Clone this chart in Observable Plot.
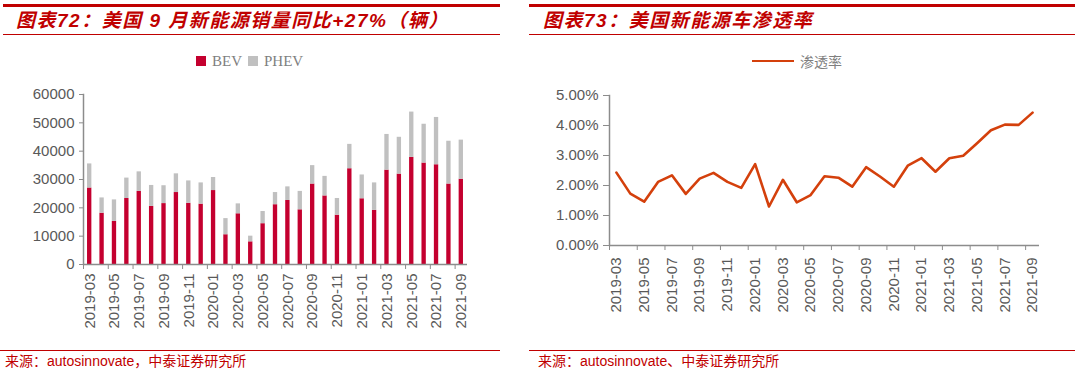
<!DOCTYPE html>
<html><head><meta charset="utf-8">
<script src="https://cdn.jsdelivr.net/npm/d3@7"></script>
<script src="https://cdn.jsdelivr.net/npm/@observablehq/plot@0.6"></script>
<style>
body{margin:0;background:#fff;}
#root{position:relative;width:1075px;height:375px;overflow:hidden;background:#fff;}
.abs{position:absolute;}
.title{font-family:"Liberation Sans","Noto Sans CJK SC",sans-serif;font-weight:bold;font-style:italic;font-size:19px;color:#c00000;letter-spacing:1.5px;white-space:nowrap;line-height:22px;}
.thick{height:2.5px;background:#c00000;}
.thin{height:1.3px;background:#c00000;}
.src{font-family:"Liberation Sans","Noto Sans CJK SC",sans-serif;font-size:14px;color:#c00000;white-space:nowrap;line-height:18px;}
.srcline{height:1px;background:#c00000;}
.leg{font-family:"Liberation Serif","Noto Sans CJK SC",serif;font-size:15px;color:#7f7f7f;white-space:nowrap;line-height:18px;}
.legcjk{font-family:"Noto Sans CJK SC",sans-serif;font-size:14px;color:#7f7f7f;white-space:nowrap;line-height:18px;}
</style></head>
<body>
<div id="root">
  <div class="abs thick" style="left:3px;top:4px;width:497px;"></div>
  <div class="abs title" style="left:16px;top:10px;">图表72：美国 9 月新能源销量同比+27%（辆）</div>
  <div class="abs thin" style="left:3px;top:33.5px;width:497px;"></div>

  <div class="abs thick" style="left:529px;top:4px;width:546px;"></div>
  <div class="abs title" style="left:543px;top:10px;">图表73：美国新能源车渗透率</div>
  <div class="abs thin" style="left:529px;top:33.5px;width:546px;"></div>

  <div class="abs" style="left:196px;top:56px;width:10px;height:10px;background:#c4002f;"></div>
  <div class="abs leg" style="left:212px;top:52px;">BEV</div>
  <div class="abs" style="left:248px;top:56px;width:10px;height:10px;background:#c0c0c0;"></div>
  <div class="abs leg" style="left:264px;top:52px;">PHEV</div>

  <div class="abs" style="left:752px;top:59.5px;width:42px;height:2.7px;background:#d4400c;"></div>
  <div class="abs legcjk" style="left:800px;top:52px;">渗透率</div>

  <div id="left" class="abs" style="left:0px;top:85px;"></div>
  <div id="right" class="abs" style="left:540px;top:85px;"></div>

  <div class="abs srcline" style="left:0px;top:349.5px;width:500px;"></div>
  <div class="abs src" style="left:5px;top:352px;">来源：autosinnovate，中泰证券研究所</div>
  <div class="abs srcline" style="left:529px;top:349.5px;width:546px;"></div>
  <div class="abs src" style="left:538px;top:352px;">来源：autosinnovate、中泰证券研究所</div>
</div>
<script>
const months = ["2019-03","2019-04","2019-05","2019-06","2019-07","2019-08","2019-09","2019-10","2019-11","2019-12",
  "2020-01","2020-02","2020-03","2020-04","2020-05","2020-06","2020-07","2020-08","2020-09","2020-10","2020-11","2020-12",
  "2021-01","2021-02","2021-03","2021-04","2021-05","2021-06","2021-07","2021-08","2021-09"];
const tickMonths = ["2019-03","2019-05","2019-07","2019-09","2019-11","2020-01","2020-03","2020-05","2020-07","2020-09",
  "2020-11","2021-01","2021-03","2021-05","2021-07","2021-09"];
const bev = [27000,18100,15200,23300,25800,20500,21500,25400,21600,21300,26100,10500,17900,8000,14400,21100,22600,19300,
  28400,24200,17400,33800,23200,19100,33300,31900,37800,35800,35200,28400,30100];
const phev = [8500,5400,7600,7200,6900,7400,6300,6600,7900,7500,4600,5700,3500,2000,4300,4300,4800,6500,
  6500,6900,5900,8600,8400,9700,12600,13000,16000,13700,16700,15100,13800];
const ratePct = [2.43,1.73,1.46,2.12,2.34,1.72,2.23,2.42,2.12,1.92,2.71,1.30,2.19,1.44,1.68,2.31,2.26,1.96,
  2.61,2.30,1.96,2.66,2.91,2.46,2.91,2.99,3.41,3.84,4.03,4.02,4.43];
const seriesNames = ["BEV","PHEV"];
const yTicksL = [0,10000,20000,30000,40000,50000,60000];
const yTicksR = [0,0.01,0.02,0.03,0.04,0.05];

const red = "#c4002f", gray = "#c0c0c0", lineColor = "#d4400c";
const axisGray = "#8c8c8c", labelGray = "#595959";
const font = "Liberation Sans, Arial, sans-serif";

const rows = months.flatMap((m, i) => [
  {month: m, type: seriesNames[0], value: bev[i]},
  {month: m, type: seriesNames[1], value: phev[i]}
]);
const rateRows = months.map((m, i) => ({month: m, rate: ratePct[i] / 100}));

// Left chart
{
  const W = 490, H = 265, ml = 83, mr = 23;
  const step = (W - ml - mr) / months.length;
  const chart = Plot.plot({
    width: W, height: H, marginLeft: ml, marginRight: mr, marginTop: 9, marginBottom: 86,
    style: {fontFamily: font, fontSize: "15px", color: labelGray, background: "transparent"},
    x: {type: "band", domain: months, paddingInner: 0.65, paddingOuter: 0.325, round: false},
    y: {domain: [0, 60000]},
    color: {domain: seriesNames, range: [red, gray]},
    marks: [
      Plot.barY(rows, {x: "month", y: "value", fill: "type"}),
      Plot.axisY({ticks: yTicksL, tickSize: 4, tickPadding: 5, tickFormat: d3.format("d"), stroke: axisGray, fill: labelGray, label: null}),
      Plot.axisX({ticks: tickMonths, tickSize: 5, tickFormat: () => "", dx: -step / 2, stroke: axisGray, label: null}),
      Plot.axisX({ticks: tickMonths, tickSize: 0, tickPadding: 9, tickRotate: -90, fill: labelGray, label: null}),
      Plot.ruleY([0], {stroke: axisGray, strokeWidth: 1.5}),
      Plot.frame({anchor: "left", stroke: axisGray, strokeWidth: 1.5})
    ]
  });
  document.getElementById("left").appendChild(chart);
}

// Right chart
{
  const W = 535, H = 255, ml = 69, mr = 36;
  const step = (W - ml - mr) / months.length;
  const chart = Plot.plot({
    width: W, height: H, marginLeft: ml, marginRight: mr, marginTop: 10, marginBottom: 95,
    style: {fontFamily: font, fontSize: "15px", color: labelGray, background: "transparent"},
    x: {type: "band", domain: months, padding: 0, round: false},
    y: {domain: [0, 0.05]},
    marks: [
      Plot.axisY({ticks: yTicksR, tickSize: 6, tickPadding: 5, tickFormat: d3.format(".2%"), stroke: axisGray, fill: labelGray, label: null}),
      Plot.axisX({ticks: tickMonths, tickSize: 5, tickFormat: () => "", dx: -step / 2, stroke: axisGray, label: null}),
      Plot.axisX({ticks: tickMonths, tickSize: 0, tickPadding: 12, tickRotate: -90, fill: labelGray, label: null}),
      Plot.ruleY([0], {stroke: axisGray, strokeWidth: 1.5}),
      Plot.frame({anchor: "left", stroke: axisGray, strokeWidth: 1.5}),
      Plot.line(rateRows, {x: "month", y: "rate", stroke: lineColor, strokeWidth: 2.6, strokeLinejoin: "round"})
    ]
  });
  document.getElementById("right").appendChild(chart);
}
</script>
</body></html>
